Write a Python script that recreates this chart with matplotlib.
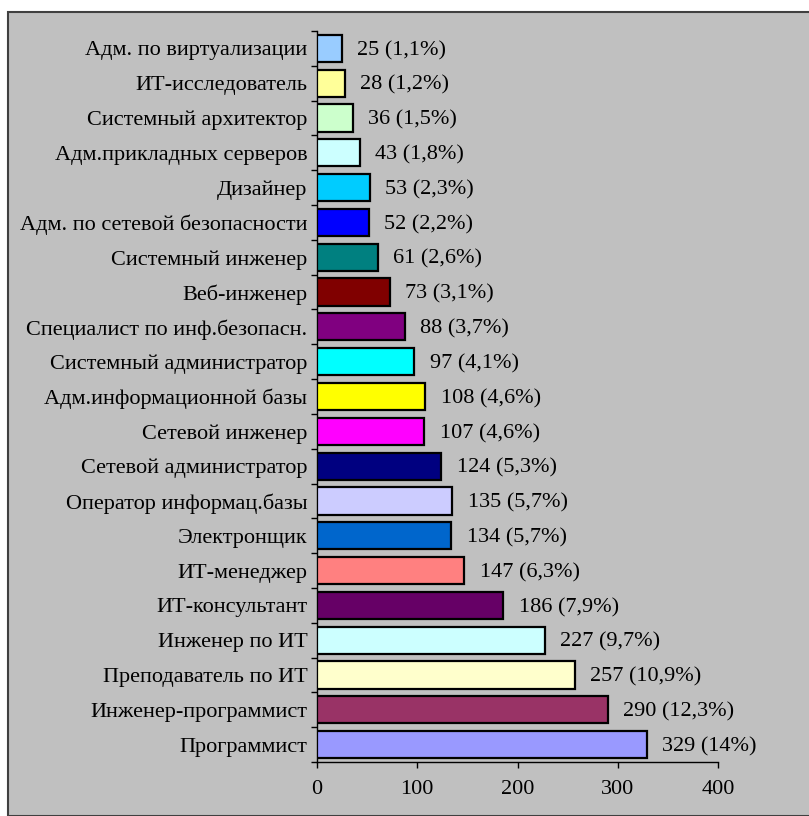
import matplotlib
matplotlib.use("Agg")
import matplotlib.pyplot as plt
from matplotlib.patches import Rectangle
import numpy as np

categories = ["Адм. по виртуализации", "ИТ-исследователь", "Системный архитектор",
              "Адм.прикладных серверов", "Дизайнер", "Адм. по сетевой безопасности",
              "Системный инженер", "Веб-инженер", "Специалист по инф.безопасн.",
              "Системный администратор", "Адм.информационной базы", "Сетевой инженер",
              "Сетевой администратор", "Оператор информац.базы", "Электронщик",
              "ИТ-менеджер", "ИТ-консультант", "Инженер по ИТ", "Преподаватель по ИТ",
              "Инженер-программист", "Программист"]
values = [25, 28, 36, 43, 53, 52, 61, 73, 88, 97, 108, 107, 124, 135, 134, 147, 186,
          227, 257, 290, 329]
percents = ["1,1%", "1,2%", "1,5%", "1,8%", "2,3%", "2,2%", "2,6%", "3,1%", "3,7%",
            "4,1%", "4,6%", "4,6%", "5,3%", "5,7%", "5,7%", "6,3%", "7,9%", "9,7%",
            "10,9%", "12,3%", "14%"]
colors = ["#99CCFF", "#FFFF99", "#CCFFCC", "#CCFFFF", "#00CCFF", "#0000FF", "#008080",
          "#800000", "#800080", "#00FFFF", "#FFFF00", "#FF00FF", "#000080", "#CCCCFF",
          "#0066CC", "#FF8080", "#660066", "#CCFFFF", "#FFFFCC", "#993366", "#9999FF"]
xticks = [0, 100, 200, 300, 400]

plt.rcParams['font.family'] = ['Liberation Serif', 'DejaVu Serif']
FS = 16

fig = plt.figure(figsize=(8.09, 8.16), dpi=100)
fig.patch.set_facecolor("white")
W, H = 809, 816
fig.patches.append(Rectangle((8 / W, 0), 1 - 8 / W + 0.01, 1 - 11.5 / H,
                             transform=fig.transFigure, facecolor="#C0C0C0",
                             edgecolor="#404040", linewidth=1.5, zorder=-5))

ax = fig.add_axes([317 / W, 1 - 762 / H, (718 - 317) / W, (762 - 31) / H])
ax.set_zorder(2)
ax.set_facecolor("none")
y = np.arange(len(categories))
ax.barh(y, values, height=0.78, color=colors, edgecolor="black", linewidth=1.6, zorder=3)
for yi, v, p in zip(y, values, percents):
    ax.annotate(f"{v} ({p})", (v, yi), xytext=(11, -1.5), textcoords="offset points",
                va="center", ha="left", fontsize=FS, color="black")

ax.set_xlim(0, 400)
ax.set_ylim(len(categories) - 0.5, -0.5)
ax.set_xticks(xticks)
ax.set_xticklabels([str(t) for t in xticks], fontsize=FS)
ax.set_yticks(y)
ax.set_yticklabels(categories, fontsize=FS)
ax.tick_params(axis="y", which="major", length=0, pad=7)
ax.set_yticks(np.arange(-0.5, len(categories), 1.0), minor=True)
ax.tick_params(axis="y", which="minor", length=4, width=1, color="black")
ax.tick_params(axis="x", length=4, width=1, pad=9)
for s in ["top", "right"]:
    ax.spines[s].set_visible(False)
ax.spines["left"].set_linewidth(1)
ax.spines["bottom"].set_linewidth(1)

fig.savefig("out.png", dpi=100)
